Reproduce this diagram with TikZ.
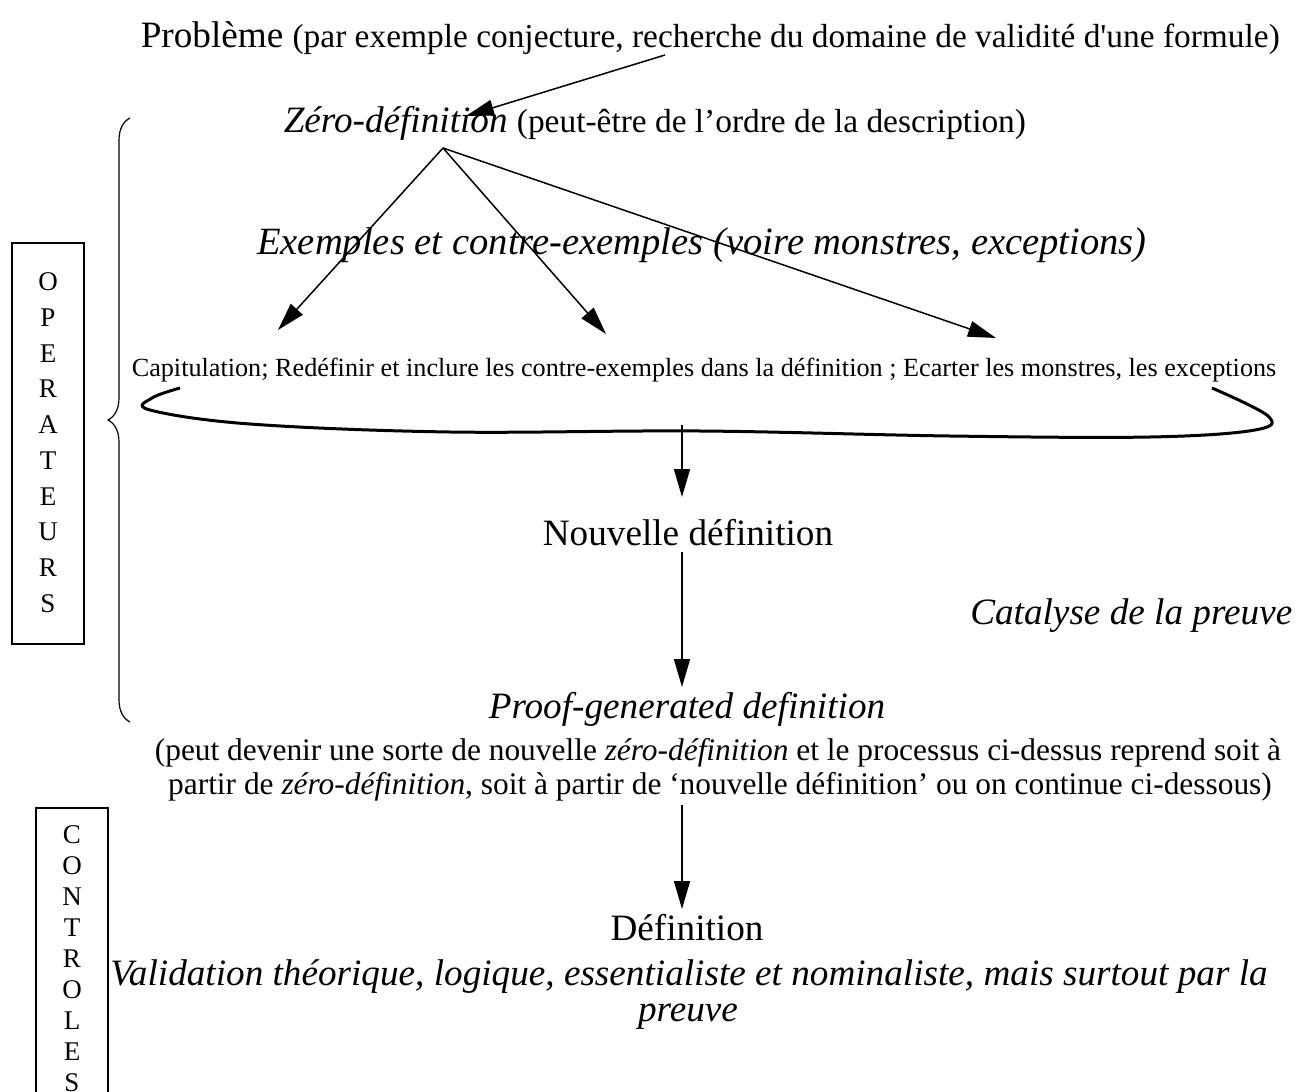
\documentclass[tikz,border=0pt]{standalone}
\usepackage{fontspec}
\setmainfont{Liberation Serif}[Ligatures={TeXOff,CommonOff}]
\usetikzlibrary{arrows.meta,decorations.pathreplacing}

\newcommand{\grand}{\fontsize{18.6}{22}\selectfont}
\newcommand{\moyen}{\fontsize{16.7}{20}\selectfont}
\newcommand{\note}{\fontsize{15.7}{19}\selectfont}
\newcommand{\petit}{\fontsize{13.1}{16}\selectfont}
\newcommand{\lettrefont}{\fontsize{13.5}{16}\selectfont}

\begin{document}
\begin{tikzpicture}[x=0.5pt, y=-0.5pt, >={Triangle[length=14pt, width=8pt]}, line width=0.75pt,
  texte/.style={inner sep=0pt, font=\grand},
  remarque/.style={inner sep=0pt, font=\note},
  lettre/.style={inner sep=0pt, font=\lettrefont}]
\useasboundingbox (0,0) rectangle (1298,1092);

% lignes du schema
\node[texte, anchor=base west] (prob) at (140,47) {Problème {\moyen(par exemple conjecture, recherche du domaine de validité d'une formule)}};
\node[texte, anchor=base west] (zero) at (283,132) {\textit{Zéro-définition} {\moyen(peut-être de l’ordre de la description)}};
\node[texte, anchor=base, font=\fontsize{19.3}{23}\selectfont] (exem) at (702,254) {\textit{Exemples et contre-exemples (voire monstres, exceptions)}};
\node[texte, anchor=base, font=\petit] (capi) at (704,376) {Capitulation; Redéfinir et inclure les contre-exemples dans la définition ; Ecarter les monstres, les exceptions};
\node[texte, anchor=base] (nouv) at (688,545) {Nouvelle définition};
\node[texte, anchor=base east] (cata) at (1293,624) {\textit{Catalyse de la preuve}};
\node[texte, anchor=base] (proof) at (687,718) {\textit{Proof-generated definition}};
\node[remarque, anchor=base] (peut1) at (718,760) {(peut devenir une sorte de nouvelle \textit{zéro-définition} et le processus ci-dessus reprend soit à};
\node[remarque, anchor=base] (peut2) at (720,794) {partir de \textit{zéro-définition}, soit à partir de ‘nouvelle définition’ ou on continue ci-dessous)};
\node[texte, anchor=base] (defi) at (687,940) {Définition};
\node[texte, anchor=base] (vali) at (689,985) {\textit{Validation théorique, logique, essentialiste et nominaliste, mais surtout par la}};
\node[texte, anchor=base] (preu) at (688,1021) {\textit{preuve}};

% points d'attache des fleches
\coordinate (pb) at (665,55);
\coordinate (zb) at (466,116);
\coordinate (apex) at (443,148);
\coordinate (c1) at (278,330);
\coordinate (c2) at (606,334);
\coordinate (c3) at (996,338);
\coordinate (ca) at (682,425);
\coordinate (na) at (682,497);
\coordinate (pa) at (682,805);

\draw[->] (pb) -- (zb);
\foreach \c in {c1,c2,c3}
  \draw[->] (apex) -- (\c);

% accolade sous les operations
\draw[line width=1.5pt] plot[smooth, tension=0.6] coordinates {(180,388) (152,398) (150,410) (250,424) (450,432) (700,431) (950,436) (1150,437) (1255,430) (1268,416) (1212,388)};

\draw[->] (ca) -- (na);
\draw[->] ([yshift=-3pt]ca |- nouv.south) -- ([yshift=2pt]ca |- proof.north);
\draw[->] (pa) -- ([yshift=2pt]pa |- defi.north);

% grande accolade
\draw[line width=0.6pt, decorate, decoration={brace, amplitude=11pt}] (130,722) -- (130,118);

% cadres verticaux
\draw[line width=0.6pt] (12,243) rectangle (84,644);
\foreach \l [count=\i from 0] in {O,P,E,R,A,T,E,U,R,S}
  \node[lettre] (op\i) at (48,282+35.7*\i) {\l};
\draw[line width=0.6pt] (36,808) rectangle (108,1100);
\foreach \l [count=\i from 0] in {C,O,N,T,R,O,L,E,S}
  \node[lettre] (co\i) at (72,835+31*\i) {\l};
\end{tikzpicture}
\end{document}
